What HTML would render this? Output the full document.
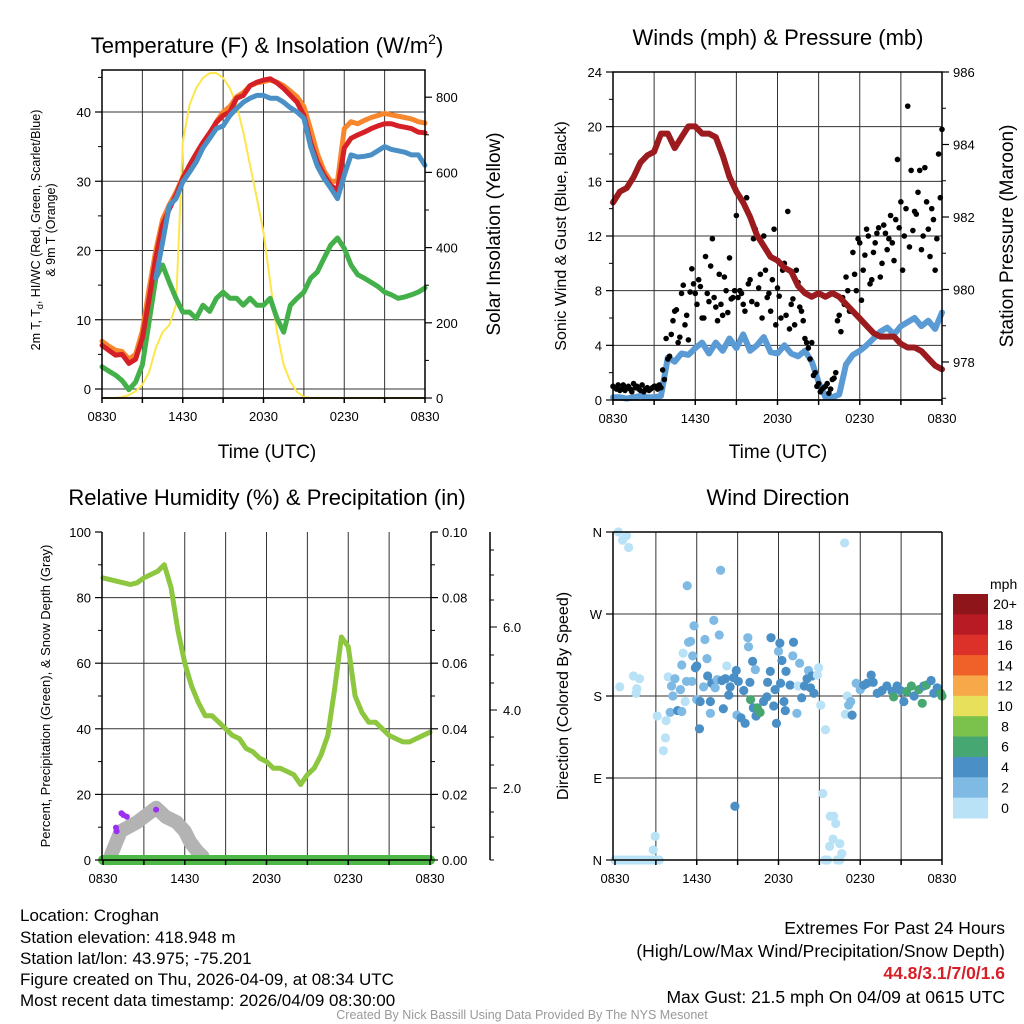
<!DOCTYPE html>
<html><head><meta charset="utf-8">
<style>
html,body{margin:0;padding:0;background:#fff;}
svg{display:block;font-family:"Liberation Sans",sans-serif;}
</style></head>
<body>
<svg id="chart" width="1024" height="1024" viewBox="0 0 1024 1024" xmlns="http://www.w3.org/2000/svg">
<g id="layer"></g>
<g font-size="17" fill="#000">
<text x="20" y="921">Location: Croghan</text>
<text x="20" y="943">Station elevation: 418.948 m</text>
<text x="20" y="964">Station lat/lon: 43.975; -75.201</text>
<text x="20" y="985">Figure created on Thu, 2026-04-09, at 08:34 UTC</text>
<text x="20" y="1006">Most recent data timestamp: 2026/04/09 08:30:00</text>
<g font-size="17.5">
<text x="1005" y="934" text-anchor="end">Extremes For Past 24 Hours</text>
<text x="1005" y="957" text-anchor="end">(High/Low/Max Wind/Precipitation/Snow Depth)</text>
<text x="1005" y="979" text-anchor="end" fill="#d62027" font-weight="bold">44.8/3.1/7/0/1.6</text>
<text x="1005" y="1003" text-anchor="end">Max Gust: 21.5 mph On 04/09 at 0615 UTC</text>
</g>
<text x="522" y="1019" text-anchor="middle" font-size="12.5" fill="#999">Created By Nick Bassill Using Data Provided By The NYS Mesonet</text>
</g>
</svg>
<script>
// ---------- data (hours 0..24 at 0.5h steps unless noted) ----------
const timeTicks = ["0830","1430","2030","0230","0830"];
const tempRed = [6.3,5.6,4.9,5.0,3.7,4.3,7.4,13,19,23.7,26,28,30.4,32.3,34,35.6,37,38.5,39.5,40,42,42.4,43.8,44.3,44.6,44.8,44.2,43.4,42.4,41.4,39.5,35.6,32.8,30.9,29.4,28.7,34.8,36.2,36.7,37.1,37.6,38,38.3,38.3,38,37.8,37.6,37.1,37];
const tempOrange = [6.9,6.2,5.6,5.4,4.3,5.0,8.4,14.5,20,24.5,26.6,28.4,30.6,32.2,33.8,35.2,36.8,38.6,40,40.8,42.2,42.8,43.8,44.2,44.4,44.6,44.3,43.8,43.0,42.2,40.8,37.5,34,31.5,30,30,37.6,38.6,38.3,38.8,39.2,39.5,39.8,39.6,39.4,39.2,39.0,38.6,38.4];
const tempBlue = [null,null,null,null,null,null,null,null,16,21.2,26.5,27.5,29.9,31.3,32.8,34.8,36.2,37.6,38,39.5,40.5,41.4,42,42.4,42.4,42,42,41.4,40.6,40.0,39.1,35,32.2,30.4,29,27.5,30.9,33.8,33.5,33.6,33.8,34.4,35,34.6,34.4,34.2,33.8,33.8,32.3];
const tempGreen = [3.2,2.6,2.0,1.2,-0.1,1.0,3.5,9.7,16,17.9,15.4,13.1,11.1,11.1,10.2,12.1,11.2,13.1,14,13.1,13.1,12.1,13.1,12.1,12.1,13.1,10.2,8.2,12.1,13.1,14,16,16.9,18.9,20.8,21.8,20.3,17.9,16.5,16,15.4,14.8,14,13.6,13.1,13.3,13.6,14,14.6];
const solar = [0,0,0,2,8,18,35,69,133,175,194,247,680,779,824,851,864,864,851,824,779,707,620,532,441,308,175,88,43,16,3,0,0,0,0,0,0,0,0,0,0,0,0,0,0,0,0,0,0];
const pressure = [982.4,982.7,982.8,983.1,983.5,983.7,983.8,984.3,984.3,983.9,984.2,984.5,984.5,984.3,984.3,984.2,983.7,983.1,982.7,982.4,982,981.5,981.2,980.9,980.8,980.6,980.5,980.1,979.9,979.8,979.9,979.8,979.9,979.8,979.6,979.4,979.2,979,978.8,978.7,978.7,978.7,978.5,978.4,978.4,978.3,978.1,977.9,977.8];
const windSpeed = [0.2,0.2,0.1,0.2,0.3,0.2,0.2,0.3,3.1,2.8,3.4,3.3,3.8,4.2,3.4,4.2,3.6,4.5,3.8,4.8,3.6,4.0,4.6,3.5,3.4,4.0,3.4,3.2,3.6,2.8,1.3,0.2,0.2,0.4,2.6,3.3,3.6,4,4.5,5,5.3,4.8,5.4,5.7,6,5.4,5.8,5.2,6.4];
const gustA = [1.0,0.8,0.7,1.1,0.9,0.8,1.2,1.0,0.7,0.6,0.9,0.8,1.0,0.8,0.9,1.5,3.0,4.8,6.5,4.2,7.8,5.5,4.4,9.6,7.8,8.8,6.0,10.5,7.2,11.8,6.8,9.2,6.2,8.0,10.4,7.5,13.5,8.0,7.0,14.8,8.8,11.8,7.0,9.2,12.0,7.5,6.5,12.5,8.2,6.0,10.0,13.8,7.0,5.5,8.6,6.5,4.5,3.8,4.2,2.0,1.2,0.8,1.0,0.5,1.5,2.0,6.2,7.5,9.0,6.5,10.8,8.0,11.5,9.5,12.5,8.5,10.8,12.2,9.0,12.8,11.0,13.5,10.2,17.6,14.5,12.0,21.5,16.8,13.8,15.2,11.0,17.0,12.5,14.0,9.5,18.0,19.8];
const gustB = [0.9,1.1,0.8,0.7,1.0,0.6,0.9,0.8,1.1,0.8,0.7,0.9,1.0,1.1,2.2,4.5,3.2,5.8,6.6,4.6,8.4,6.2,7.9,8.5,7.0,8.3,6.0,7.8,9.8,7.5,5.8,7.0,9.0,6.4,7.4,8.0,7.5,7.8,6.5,8.5,7.2,12.5,8.2,6.0,9.5,7.8,8.8,5.5,7.6,9.5,6.2,5.2,7.4,9.5,6.8,5.8,4.2,3.0,1.8,1.0,0.6,0.9,1.2,0.8,1.6,5.8,5.0,7.0,8.0,6.5,9.2,11.8,7.3,10.6,12.0,8.8,11.5,12.6,10.0,12.2,11.8,11.5,13.2,12.6,9.5,14.0,11.2,12.4,13.6,16.8,12.0,14.5,10.5,13.2,11.8,14.8];
const rhValues = [86,85.5,85,84.5,84,84.5,86,87,88,90,83,70,60,53,48,44,44,42,40,38,37,34,33,31,30,28,28,27,26,23,26,28,32,38,52,68,65,50,45,42,42,40,38,37,36,36,37,38,39];
const snowHours = [0.6,1.3,2.5,3.9,4.6,5.4,6.0,6.4,6.9,7.3];
const snowDepth = [0.15,0.8,1.05,1.45,1.2,1.05,0.8,0.5,0.25,0.1];
const precipHours = [0.95,1.0,1.35,1.5,1.75,3.9];
const precipDots = [0.9,0.8,1.3,1.25,1.2,1.4];
const dirHours = [0.25,0.55,0.85,1.0,0.35,1.35,1.8,1.6,1.55,2.95,2.8,3.55,3.7,3.1,3.75,4.05,3.9,4.15,4.25,4.4,4.6,4.9,4.8,4.9,5.0,5.15,5.25,5.3,5.4,5.55,5.7,5.8,5.9,6.0,5.65,6.0,6.2,6.25,6.5,6.6,6.75,6.8,7.0,7.0,7.1,7.25,7.35,7.5,7.65,7.75,7.85,7.95,8.1,8.2,8.35,8.45,8.7,8.8,8.9,8.95,9.05,9.25,9.45,9.55,9.75,9.8,9.9,9.95,10.1,10.15,10.3,10.35,10.45,10.65,10.9,11.15,11.2,11.4,11.45,11.65,11.75,11.85,12.0,12.1,12.15,12.25,12.4,12.5,12.55,12.85,13.05,13.1,13.35,13.45,13.55,13.7,13.9,14.1,14.2,14.35,14.45,14.6,14.85,14.95,15.1,15.45,15.25,15.8,16.05,16.2,16.0,16.5,15.75,16.65,16.85,17.05,16.9,17.15,17.3,17.4,17.7,18.0,18.25,18.5,18.8,18.95,19.25,19.6,19.95,20.35,20.45,20.7,20.95,21.2,21.4,21.75,21.95,22.3,22.55,22.65,22.85,23.2,23.4,23.65,23.9,24.0,0,0.25,0.5,0.75,1,1.25,1.5,1.75,2,2.25,2.5,2.75,3.0,3.25,15.4,15.6,16.3,16.5];
const dirValues = [360,351,356,343,190,202,199,188,183,26,11,120,134,158,153,162,201,191,180,199,164,163,187,214,227,174,196,301,239,240,224,257,211,213,196,176,144,174,190,242,221,202,174,161,194,263,189,198,247,318,197,166,199,213,181,190,200,59,208,159,196,156,186,150,244,234,195,176,218,167,209,158,167,162,174,179,195,207,244,169,187,150,229,238,194,219,174,164,207,192,224,239,161,191,216,178,191,199,208,189,202,183,203,211,170,143,73,48,48,40,23,18,15,7,348,180,160,170,174,159,194,187,192,194,203,195,183,186,191,185,179,191,186,174,185,191,180,187,172,191,192,197,183,189,183,180,0,0,0,0,0,0,0,0,0,0,0,0,0,0,0,0,0,0];
const dirSpeeds = [1,1,1,1,1,1,1,1,1,1,1,1,1,1,1,3,1,3,3,3,5,3,3,3,1,1,3,3,3,3,3,3,5,5,3,3,5,5,3,3,3,5,5,3,5,3,3,3,3,3,5,5,5,1,5,5,5,5,5,3,5,5,5,5,3,3,5,7,5,5,3,5,7,7,5,5,5,5,5,5,5,5,3,5,5,5,5,5,5,5,3,5,3,1,3,5,5,5,3,5,5,5,1,1,1,1,1,1,1,1,1,1,1,1,1,1,1,3,3,5,3,3,5,5,5,5,5,5,5,5,7,5,5,5,7,7,5,7,7,5,7,5,5,5,7,7,1,1,1,1,1,1,1,1,1,1,1,1,1,1,1,1,1,1];
const speedBins = ["0","2","4","6","8","10","12","14","16","18","20+"];
const speedColors = ["#b9e2f7","#7ebae3","#4a90c6","#47a772","#7bc24c","#e6e05a","#f7a848","#ef6129","#dc3128","#b81b23","#8e1519"];

// ---------- helpers ----------
const NS="http://www.w3.org/2000/svg";
const layer=document.getElementById('layer');
function mk(tag,attrs,parent){const e=document.createElementNS(NS,tag);for(const k in attrs)e.setAttribute(k,attrs[k]);(parent||layer).appendChild(e);return e;}
function txt(x,y,s,attrs,parent){const e=mk('text',Object.assign({x:x,y:y},attrs||{}),parent);e.textContent=s;return e;}
function pathFrom(xs,ys){let d='',pen=false;for(let i=0;i<xs.length;i++){if(ys[i]==null){pen=false;continue;}d+=(pen?'L':'M')+xs[i].toFixed(1)+' '+ys[i].toFixed(1);pen=true;}return d;}
function halfHours(n){const a=[];for(let i=0;i<n;i++)a.push(i*0.5);return a;}

function frame(g,x0,x1,y0,y1,xs,gridYs){
  for(const v of gridYs){const l=mk('line',{x1:x0,x2:x1,y1:v,y2:v,stroke:'#333','stroke-width':1},g);
    
    }
  for(let h=3;h<24;h+=3){const l=mk('line',{x1:xs(h),x2:xs(h),y1:y0,y2:y1,stroke:'#333','stroke-width':1},g);
    
    }
}
function xAxis(g,xs,yb,x0,x1){
  const a=mk('g',{},g);
  
  
  mk('line',{x1:x0,x2:x1,y1:yb,y2:yb,stroke:'#000','stroke-width':1.5},a);
  for(let h=0;h<=24;h+=3){mk('line',{x1:xs(h),x2:xs(h),y1:yb,y2:yb+5,stroke:'#000','stroke-width':1.5},a);}
  timeTicks.forEach((t,i)=>{const e=txt(xs(i*6),yb+23,t,{'font-size':13,'text-anchor':'middle'},a);
    
    });
}
function yTicks(g,x,ys,vals,labels,side,minor){
  const a=mk('g',{},g);
  
  
  const dir=side==='left'?-1:1;
  (minor||[]).forEach(v=>mk('line',{x1:x,x2:x+dir*4,y1:ys(v),y2:ys(v),stroke:'#000','stroke-width':1},a));
  vals.forEach((v,i)=>{mk('line',{x1:x,x2:x+dir*7,y1:ys(v),y2:ys(v),stroke:'#000','stroke-width':1.2},a);
    const e=txt(x+dir*11,ys(v)+5,labels[i],{'font-size':13,'text-anchor':side==='left'?'end':'start'},a);
    
    });
}
function title(x,y,s,name,size){const e=txt(x,y,s,{'font-size':size||22,'text-anchor':'middle'});
  
  return e;}
function vtitle(x,y,s,name,size){const e=txt(0,0,s,{'font-size':size,'text-anchor':'middle',transform:`translate(${x},${y}) rotate(-90)`});
  
  return e;}
function line(g,xs,ys,color,w,name){const p=mk('path',{d:pathFrom(xs,ys),fill:'none',stroke:color,'stroke-width':w,'stroke-linejoin':'round','stroke-linecap':'round'},g);
  
  return p;}

// ---------- Panel 1: temperature ----------
(function(){
  const g=mk('g',{});
  
  
  const X0=102,X1=425,Y0=70,Y1=398;
  const xs=h=>X0+h*(X1-X0)/24, yl=v=>389-v*6.925, yr=v=>398-v*0.376;
  frame(g,X0,X1,Y0,Y1,xs,[0,10,20,30,40].map(yl));
  const hh=halfHours(49);
  line(g,hh.map(xs),solar.map(yr),'#fde64b',2,'solar-insolation-line');
  line(g,hh.map(xs),tempGreen.map(yl),'#43b04a',5,'dewpoint-line');
  line(g,hh.map(xs),tempOrange.map(yl),'#f7862c',5,'temp-9m-line');
  line(g,hh.map(xs),tempRed.map(yl),'#d62027',5,'temp-2m-line');
  line(g,hh.map(xs),tempBlue.map(v=>v==null?null:yl(v)),'#4a90c6',5,'heat-index-windchill-line');
  mk('rect',{x:X0,y:Y0,width:X1-X0,height:Y1-Y0,fill:'none',stroke:'#000','stroke-width':1.5},g);
  xAxis(g,xs,Y1,X0,X1);
  yTicks(g,X0,yl,[0,10,20,30,40],["0","10","20","30","40"],'left',[5,15,25,35,45]);
  yTicks(g,X1,yr,[0,200,400,600,800],["0","200","400","600","800"],'right',[100,300,500,700]);
  const t=title(267,53,'','temperature-title');
  t.innerHTML='Temperature (F) &amp; Insolation (W/m<tspan font-size="14" dy="-9">2</tspan><tspan dy="9">)</tspan>';
  const a=vtitle(40,230,'','temperature-y-title',12.5);
  a.innerHTML='2m T, T<tspan font-size="9" dy="3">d</tspan><tspan dy="-3">, HI/WC (Red, Green, Scarlet/Blue)</tspan>';
  vtitle(55,230,'& 9m T (Orange)','temperature-y-title-2',12.5);
  vtitle(500,234,'Solar Insolation (Yellow)','solar-y-title',19);
  title(267,458,'Time (UTC)','temperature-x-title',19);
})();

// ---------- Panel 2: winds ----------
(function(){
  const g=mk('g',{});
  
  
  const X0=613,X1=942,Y0=72,Y1=400;
  const xs=h=>X0+h*(X1-X0)/24, yl=v=>Y1-v*(Y1-Y0)/24, yr=v=>72+(986-v)*36.25;
  frame(g,X0,X1,Y0,Y1,xs,[4,8,12,16,20].map(yl));
  const hh=halfHours(49);
  line(g,hh.map(xs),windSpeed.map(yl),'#5b9bd5',6,'sonic-wind-line');
  gustA.forEach((v,i)=>{const c=mk('circle',{cx:xs(i*0.25),cy:yl(v),r:2.8,fill:'#000'},g);
    
    });
  gustB.forEach((v,i)=>{const c=mk('circle',{cx:xs(i*0.25+0.125),cy:yl(v),r:2.8,fill:'#000'},g);
    
    });
  line(g,hh.map(xs),pressure.map(yr),'#9b1b1e',6,'pressure-line');
  mk('rect',{x:X0,y:Y0,width:X1-X0,height:Y1-Y0,fill:'none',stroke:'#000','stroke-width':1.5},g);
  xAxis(g,xs,Y1,X0,X1);
  yTicks(g,X0,yl,[0,4,8,12,16,20,24],["0","4","8","12","16","20","24"],'left',[2,6,10,14,18,22]);
  yTicks(g,X1,yr,[978,980,982,984,986],["978","980","982","984","986"],'right',[977,979,981,983,985]);
  title(778,45,'Winds (mph) & Pressure (mb)','winds-title');
  vtitle(566,236,'Sonic Wind & Gust (Blue, Black)','winds-y-title',16);
  vtitle(1013,236,'Station Pressure (Maroon)','pressure-y-title',19);
  title(778,458,'Time (UTC)','winds-x-title',19);
})();

// ---------- Panel 3: RH ----------
(function(){
  const g=mk('g',{});
  
  
  const X0=102,X1=431,Y0=532,Y1=860;
  const xs=h=>103+h*(430-103)/24, yl=v=>Y1-v*3.28, ys=v=>860-v*36;
  frame(g,X0,X1,Y0,Y1,xs,[20,40,60,80].map(yl));
  const hh=halfHours(49);
  line(g,hh.map(xs),rhValues.map(yl),'#8dc63f',5,'relative-humidity-line');
  line(g,snowHours.map(xs),snowDepth.map(ys),'#b3b3b3',14,'snow-depth-line');
  precipHours.forEach((h,i)=>{const c=mk('circle',{cx:xs(h),cy:ys(precipDots[i]),r:3,fill:'#9b30f0'},g);
    
    });
  line(g,[xs(0),xs(24)],[yl(0),yl(0)],'#4db848',10,'precipitation-line');
  mk('line',{x1:X0,x2:X0,y1:Y0,y2:Y1,stroke:'#000','stroke-width':1.5},g);
  mk('line',{x1:X1,x2:X1,y1:Y0,y2:Y1,stroke:'#000','stroke-width':1.5},g);
  xAxis(g,xs,Y1,X0,X1);
  yTicks(g,X0,yl,[0,20,40,60,80,100],["0","20","40","60","80","100"],'left',[10,30,50,70,90]);
  const yp=v=>Y1-v*3280;
  yTicks(g,X1,yp,[0,0.02,0.04,0.06,0.08,0.1],["0.00","0.02","0.04","0.06","0.08","0.10"],'right',[0.01,0.03,0.05,0.07,0.09]);
  const sa=mk('g',{},g);
  
  
  mk('line',{x1:490,x2:490,y1:532,y2:860,stroke:'#000','stroke-width':1.5},sa);
  [[860,''],[837,''],[812,''],[788,'2.0'],[765,''],[737,''],[710,'4.0'],[683,''],[655,''],[627,'6.0'],[600,''],[575,''],[550,'']].forEach(p=>{
    mk('line',{x1:490,x2:p[1]?497:494,y1:p[0],y2:p[0],stroke:'#000','stroke-width':1},sa);
    if(p[1])txt(503,p[0]+5,p[1],{'font-size':13},sa);});
  title(267,505,'Relative Humidity (%) & Precipitation (in)','humidity-title');
  vtitle(50,696,'Percent, Precipitation (Green), & Snow Depth (Gray)','humidity-y-title',13);
})();

// ---------- Panel 4: wind direction ----------
(function(){
  const g=mk('g',{});
  
  
  const X0=613,X1=942,Y0=532,Y1=860;
  const xs=h=>615+h*(942-615)/24, yd=v=>Y1-v*(Y1-Y0)/360;
  frame(g,X0,X1,Y0,Y1,xs,[90,180,270].map(yd));
  dirValues.forEach((d,i)=>{const bin=Math.min(10,Math.floor(dirSpeeds[i]/2));
    const c=mk('circle',{cx:xs(dirHours[i]),cy:yd(d),r:4.6,fill:speedColors[bin]},g);
    
    });
  mk('line',{x1:X0,x2:X0,y1:Y0,y2:Y1,stroke:'#000','stroke-width':1.5},g);
  mk('line',{x1:X1,x2:X1,y1:Y0,y2:Y1,stroke:'#000','stroke-width':1.5},g);
  mk('line',{x1:X0,x2:X1,y1:Y0,y2:Y0,stroke:'#000','stroke-width':1.5},g);
  xAxis(g,xs,Y1,X0,X1);
  yTicks(g,X0,yd,[0,90,180,270,360],["N","E","S","W","N"],'left',[]);
  title(778,505,'Wind Direction','wind-direction-title');
  vtitle(568,696,'Direction (Colored By Speed)','wind-direction-y-title',16);
  const cb=mk('g',{},g);
  
  
  txt(990,589,'mph',{'font-size':14},cb);
  const bh=(818-594)/11;
  speedBins.slice().reverse().forEach((lab,i)=>{
    const col=speedColors[10-i];
    const r=mk('rect',{x:953,y:594+i*bh,width:35,height:bh+0.5,fill:col},cb);
    
    
    const t=txt(1005,594+i*bh+bh/2+5,lab,{'font-size':14,'text-anchor':'middle'},cb);
    
    
  });
})();
</script>
</body></html>
